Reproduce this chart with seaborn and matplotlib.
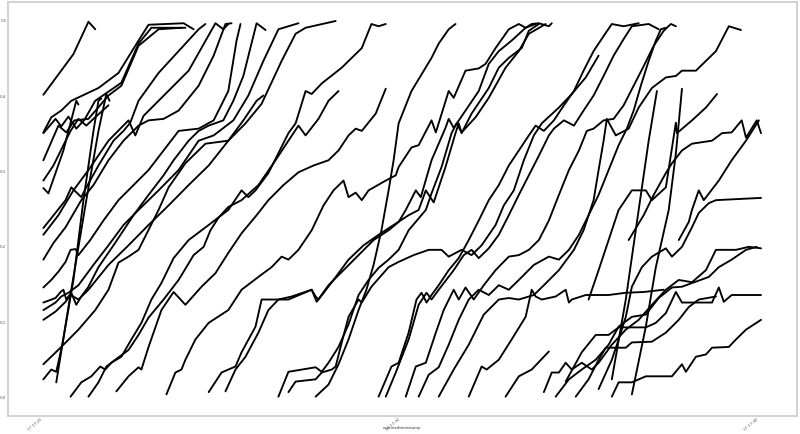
import matplotlib
matplotlib.use("Agg")
import matplotlib.pyplot as plt
import matplotlib.dates as mdates
import seaborn as sns
import pandas as pd

# minutes after 17:20 and values for each series
s01_t = [0, 0.84, 1.26, 1.45]
s01_v = [0.402, 0.456, 0.499, 0.489]
s02_t = [0, 0.22, 0.5, 0.78, 1.54, 2.1, 2.66, 2.94, 3.92, 4.2]
s02_v = [0.352, 0.372, 0.381, 0.394, 0.411, 0.431, 0.474, 0.495, 0.497, 0.489]
s03_t = [0, 0.34, 0.5, 0.7, 0.92, 1.15, 1.45, 2.18, 2.66, 3.02, 3.97]
s03_v = [0.351, 0.370, 0.360, 0.373, 0.357, 0.369, 0.394, 0.418, 0.470, 0.491, 0.491]
s04_t = [0, 0.42, 0.64, 0.87, 1.26, 1.82, 2.18, 2.66, 3.22, 3.86]
s04_v = [0.315, 0.361, 0.352, 0.368, 0.370, 0.401, 0.414, 0.467, 0.489, 0.491]
s05_t = [0, 0.14, 0.56, 0.92, 0.98]
s05_v = [0.278, 0.271, 0.328, 0.394, 0.389]
s06_t = [0, 0.28, 0.56, 0.76, 0.98, 1.2, 1.4, 1.82]
s06_v = [0.288, 0.308, 0.335, 0.354, 0.370, 0.361, 0.370, 0.388]
s07_t = [0.36, 0.78, 1.2, 1.54, 1.76, 1.85]
s07_v = [0.020, 0.143, 0.262, 0.354, 0.403, 0.394]
s08_t = [0, 0.22, 0.36, 0.53, 0.84, 1.12, 1.4, 1.54, 1.62]
s08_v = [0.024, 0.037, 0.034, 0.070, 0.156, 0.262, 0.354, 0.394, 0.397]
s09_t = [0, 0.22, 0.62, 0.78, 1.06, 1.2, 1.54, 1.96, 2.24, 2.43, 2.66, 3.22, 3.78, 4.34, 4.53]
s09_v = [0.225, 0.238, 0.262, 0.279, 0.266, 0.279, 0.308, 0.341, 0.354, 0.365, 0.394, 0.431, 0.460, 0.489, 0.496]
s10_t = [0, 0.42, 0.84, 1.26, 1.82, 2.38, 2.57, 2.8, 3.22, 4.06, 4.81, 5.03, 5.17]
s10_v = [0.216, 0.242, 0.275, 0.302, 0.341, 0.368, 0.348, 0.374, 0.394, 0.434, 0.497, 0.489, 0.496]
s11_t = [0, 0.28, 0.62, 1.06, 1.4, 1.82, 2.24, 2.66, 2.94, 3.36, 3.78, 4.34, 4.76, 5.09, 5.26]
s11_v = [0.183, 0.205, 0.226, 0.262, 0.282, 0.315, 0.341, 0.361, 0.368, 0.370, 0.381, 0.414, 0.454, 0.496, 0.497]
s12_t = [0, 0.22, 0.42, 0.62, 0.76, 0.9, 0.98, 1.31, 1.68, 2.1, 2.52, 2.94, 3.36, 3.78, 4.34, 4.76, 5.17, 5.4, 5.51]
s12_v = [0.146, 0.156, 0.167, 0.180, 0.196, 0.197, 0.189, 0.209, 0.235, 0.262, 0.282, 0.302, 0.328, 0.354, 0.357, 0.368, 0.407, 0.474, 0.496]
s13_t = [0, 0.34, 0.48, 0.56, 0.64, 0.78, 0.92, 1.06, 1.26, 1.54, 1.96, 2.24, 2.52, 2.94, 3.36, 3.64, 4.06, 4.34, 4.62, 5.03, 5.31, 5.59, 5.96, 6.21]
s13_v = [0.126, 0.132, 0.140, 0.143, 0.130, 0.139, 0.123, 0.134, 0.147, 0.173, 0.202, 0.222, 0.242, 0.269, 0.295, 0.315, 0.341, 0.354, 0.361, 0.368, 0.394, 0.427, 0.497, 0.488]
s14_t = [0, 0.34, 0.5, 0.7, 0.98, 1.4, 1.82, 2.24, 2.66, 3.22, 3.78, 4.34, 4.76, 5.31, 5.73, 6.15, 6.57, 6.85, 7.13]
s14_v = [0.116, 0.126, 0.134, 0.139, 0.149, 0.176, 0.202, 0.229, 0.249, 0.275, 0.302, 0.341, 0.348, 0.368, 0.401, 0.447, 0.489, 0.493, 0.497]
s15_t = [0, 0.34, 0.62, 0.76, 0.98, 1.26, 1.82, 2.38, 2.94, 3.5, 4.06, 4.62, 5.17, 5.59, 5.96, 6.15]
s15_v = [0.103, 0.114, 0.127, 0.136, 0.130, 0.143, 0.176, 0.202, 0.229, 0.255, 0.282, 0.308, 0.341, 0.368, 0.394, 0.401]
s16_t = [0, 0.5, 0.98, 1.45, 1.82, 2.1, 2.38, 2.66, 3.22, 3.5, 3.97, 4.53, 5.17, 5.65, 6.1, 6.66, 7.05, 7.33, 8.17]
s16_v = [0.044, 0.067, 0.090, 0.116, 0.143, 0.179, 0.187, 0.196, 0.249, 0.279, 0.311, 0.337, 0.341, 0.364, 0.390, 0.447, 0.483, 0.491, 0.500]
s17_t = [0.76, 1.06, 1.34, 1.59, 1.73, 1.9, 2.18, 2.46, 2.74, 3.02, 3.3, 3.64, 4.06, 4.62, 5.17, 5.54, 5.73, 5.93, 6.29, 6.85, 7.05, 7.33, 7.5, 7.78, 8.34, 8.9, 9.17, 9.37, 9.57]
s17_v = [0.001, 0.020, 0.028, 0.041, 0.037, 0.046, 0.054, 0.077, 0.099, 0.130, 0.152, 0.185, 0.209, 0.229, 0.249, 0.275, 0.266, 0.275, 0.298, 0.351, 0.364, 0.407, 0.403, 0.417, 0.438, 0.464, 0.496, 0.493, 0.496]
s18_t = [1.26, 1.54, 1.76, 2.01, 2.38, 2.66, 2.94, 3.36, 3.78, 4.2, 4.48, 4.67, 4.9, 5.17, 5.54, 6.01, 6.49, 6.85, 7.13, 7.33, 7.69, 7.97, 8.25]
s18_v = [0.001, 0.020, 0.041, 0.050, 0.063, 0.083, 0.106, 0.130, 0.156, 0.189, 0.200, 0.222, 0.239, 0.253, 0.262, 0.282, 0.315, 0.341, 0.361, 0.348, 0.370, 0.394, 0.407]
s19_t = [2.04, 2.38, 2.66, 2.74, 2.94, 3.3, 3.64, 3.97, 4.42, 4.81, 5.17, 5.54, 5.96, 6.29, 6.71, 7.13, 7.55, 7.97, 8.25, 8.53, 8.73, 8.9, 9.29, 9.57]
s19_v = [0.008, 0.028, 0.040, 0.037, 0.067, 0.116, 0.140, 0.123, 0.147, 0.165, 0.192, 0.218, 0.242, 0.262, 0.282, 0.299, 0.308, 0.315, 0.328, 0.348, 0.357, 0.354, 0.377, 0.410]
s20_t = [3.44, 3.69, 3.86, 3.97, 4.25, 4.62, 5.17, 5.54, 6.01, 6.38, 6.66, 6.85, 7.13, 7.5, 7.83, 8.11, 8.39, 8.53, 8.73, 8.9, 9.09, 9.57, 9.85, 9.93, 10.29, 10.49, 10.85, 10.97, 11.33, 11.47, 11.8, 12.17, 12.36, 12.64, 13.01, 13.29, 13.48, 13.65, 13.85, 14.13, 14.21]
s20_v = [0.004, 0.033, 0.037, 0.050, 0.077, 0.099, 0.116, 0.143, 0.160, 0.173, 0.187, 0.183, 0.196, 0.222, 0.255, 0.275, 0.288, 0.266, 0.272, 0.262, 0.275, 0.288, 0.295, 0.306, 0.332, 0.335, 0.368, 0.352, 0.407, 0.398, 0.434, 0.437, 0.443, 0.464, 0.489, 0.496, 0.491, 0.496, 0.497, 0.493, 0.497]
s21_t = [4.62, 4.98, 5.17, 5.37, 5.54, 5.93, 6.1, 6.85, 7.5, 7.64, 7.97, 8.39, 8.81, 9.23, 9.65, 9.93, 10.13, 10.41, 10.55, 10.85, 11.24, 11.33, 11.47, 11.8, 12.17, 12.45, 12.73, 13.09, 13.48, 13.76]
s21_v = [0.007, 0.033, 0.037, 0.041, 0.060, 0.094, 0.130, 0.130, 0.143, 0.127, 0.149, 0.169, 0.189, 0.209, 0.222, 0.233, 0.249, 0.275, 0.266, 0.315, 0.358, 0.370, 0.358, 0.381, 0.407, 0.443, 0.460, 0.474, 0.491, 0.496]
s22_t = [5.09, 5.37, 5.65, 6.01, 6.29, 6.57, 6.94, 7.5, 7.61, 7.69, 8.11, 8.53, 8.95, 9.37, 9.79, 10.21, 10.49, 10.69, 10.91, 11.24, 11.52, 11.61, 11.69, 11.97, 12.45, 12.73, 13.01, 13.37, 13.57, 13.85]
s22_v = [0.008, 0.037, 0.054, 0.086, 0.116, 0.130, 0.134, 0.143, 0.134, 0.130, 0.156, 0.183, 0.202, 0.216, 0.229, 0.242, 0.249, 0.275, 0.259, 0.306, 0.351, 0.364, 0.351, 0.377, 0.411, 0.438, 0.451, 0.464, 0.487, 0.496]
s23_t = [6.57, 6.85, 7.61, 7.78, 7.97, 8.25, 8.53, 8.81, 9.09, 9.37, 9.65, 9.93, 10.21, 10.69, 10.85, 11.13, 11.41, 11.55, 11.69, 12.08, 12.45, 12.92, 13.29, 13.57, 14.04]
s23_v = [0.001, 0.034, 0.040, 0.034, 0.046, 0.067, 0.097, 0.136, 0.156, 0.172, 0.183, 0.196, 0.222, 0.249, 0.271, 0.306, 0.351, 0.364, 0.352, 0.372, 0.398, 0.438, 0.460, 0.483, 0.496]
s24_t = [6.85, 7.05, 7.61, 7.78, 8.06, 8.17, 8.34, 8.53, 8.81, 8.9, 9.17, 9.65, 9.93, 10.35, 10.77, 11.13, 11.33, 11.69, 11.97, 12.25, 12.64, 12.87, 13.15, 13.43, 13.71, 13.93, 14.41, 14.77, 15.16, 15.52]
s24_v = [0.007, 0.021, 0.024, 0.033, 0.037, 0.041, 0.073, 0.107, 0.130, 0.126, 0.147, 0.173, 0.180, 0.189, 0.196, 0.196, 0.187, 0.196, 0.189, 0.202, 0.229, 0.255, 0.275, 0.315, 0.348, 0.364, 0.385, 0.403, 0.425, 0.454]
s25_t = [7.61, 7.97, 8.25, 8.53, 8.81, 9.03, 9.23, 9.45, 9.65, 9.79, 9.93, 10.29, 10.85, 11.05, 11.33, 11.52]
s25_v = [0.001, 0.017, 0.044, 0.077, 0.116, 0.143, 0.176, 0.222, 0.275, 0.315, 0.364, 0.407, 0.451, 0.470, 0.489, 0.496]
s26_t = [9.37, 9.73, 9.93, 10.21, 10.43, 10.57, 10.71, 10.85, 11.05, 11.33, 11.61, 11.89, 12.17, 12.45, 12.73, 13.01, 13.29, 13.57, 13.76, 13.99, 14.27, 14.55, 14.83, 15.1, 15.38, 15.66, 15.89, 16.22, 16.64]
s26_v = [0.001, 0.041, 0.046, 0.086, 0.130, 0.139, 0.126, 0.136, 0.149, 0.169, 0.185, 0.209, 0.235, 0.262, 0.282, 0.308, 0.328, 0.348, 0.361, 0.354, 0.368, 0.388, 0.407, 0.434, 0.460, 0.480, 0.496, 0.493, 0.497]
s27_t = [9.57, 9.85, 10.21, 10.49, 10.71, 10.85, 11.05, 11.47, 11.75, 11.97, 12.17, 12.45, 12.73, 13.01, 13.29, 13.57, 13.85, 14.13, 14.27, 14.55, 14.83, 15.1, 15.38, 15.66, 15.94, 16.22, 16.45, 16.92, 17.2]
s27_v = [0.001, 0.033, 0.077, 0.123, 0.139, 0.130, 0.143, 0.169, 0.189, 0.196, 0.185, 0.198, 0.216, 0.242, 0.269, 0.295, 0.321, 0.348, 0.357, 0.368, 0.361, 0.381, 0.401, 0.427, 0.454, 0.476, 0.493, 0.496, 0.489]
s28_t = [10.13, 10.41, 10.69, 10.97, 11.19, 11.47, 11.61, 11.8, 12.03, 12.31, 12.64, 13.01, 13.29, 13.57, 13.85, 14.13, 14.41, 14.69, 14.97, 15.19, 15.38, 15.66, 15.94, 16.22, 16.5, 16.78, 17.06, 17.34, 17.54, 17.68]
s28_v = [0.001, 0.041, 0.046, 0.086, 0.116, 0.143, 0.130, 0.146, 0.130, 0.149, 0.169, 0.187, 0.189, 0.196, 0.209, 0.235, 0.269, 0.302, 0.328, 0.354, 0.357, 0.368, 0.370, 0.388, 0.414, 0.440, 0.467, 0.487, 0.496, 0.493]
s29_t = [10.49, 10.77, 11.05, 11.33, 11.61, 11.89, 12.17, 12.45, 12.73, 13.01, 13.29, 13.71, 14.13, 14.41, 14.69, 14.97, 15.24, 15.52, 15.8, 16.08, 16.31, 16.5, 16.7, 16.92, 17.12, 17.26, 17.4]
s29_v = [0.001, 0.030, 0.040, 0.070, 0.103, 0.130, 0.143, 0.136, 0.149, 0.143, 0.156, 0.176, 0.187, 0.183, 0.196, 0.216, 0.242, 0.269, 0.302, 0.335, 0.357, 0.381, 0.414, 0.447, 0.474, 0.489, 0.491]
s30_t = [11.05, 11.47, 11.89, 12.31, 12.73, 13.01, 13.29, 13.71, 13.99, 14.41, 14.83, 15.1, 15.38, 15.52, 15.66, 15.75, 16.0, 16.36, 16.64, 17.01, 17.4, 17.68, 17.85, 18.24, 18.52, 18.8, 19.16, 19.5]
s30_v = [0.001, 0.037, 0.070, 0.110, 0.130, 0.132, 0.130, 0.136, 0.149, 0.169, 0.196, 0.222, 0.262, 0.302, 0.341, 0.370, 0.348, 0.357, 0.385, 0.411, 0.425, 0.427, 0.434, 0.434, 0.447, 0.460, 0.493, 0.488]
s31_t = [11.89, 12.25, 12.39, 12.73, 13.09, 13.48, 13.65, 13.76, 13.93, 14.32, 14.6, 14.69, 14.77, 15.16, 15.8, 16.28, 16.78, 17.34]
s31_v = [0.001, 0.041, 0.037, 0.050, 0.077, 0.107, 0.143, 0.134, 0.130, 0.134, 0.143, 0.126, 0.130, 0.136, 0.136, 0.139, 0.140, 0.143]
s32_t = [12.92, 13.29, 13.65, 14.13]
s32_v = [0.001, 0.028, 0.037, 0.061]
s33_t = [13.99, 14.21, 14.41, 14.6, 14.77, 15.05, 15.33, 15.52, 15.89, 16.28, 16.64, 17.01, 17.4, 17.76, 18.13, 18.52, 18.8, 19.36, 19.72, 20.06]
s33_v = [0.007, 0.033, 0.033, 0.046, 0.037, 0.046, 0.037, 0.046, 0.070, 0.090, 0.103, 0.123, 0.143, 0.156, 0.153, 0.169, 0.196, 0.196, 0.200, 0.198]
s34_t = [14.32, 14.69, 15.05, 15.44, 15.8, 16.08, 16.45, 16.84, 17.2, 17.57, 17.85, 18.6, 18.88, 19.24, 19.64, 19.94]
s34_v = [0.001, 0.024, 0.037, 0.050, 0.070, 0.094, 0.107, 0.110, 0.132, 0.146, 0.147, 0.160, 0.173, 0.183, 0.196, 0.200]
s35_t = [14.6, 15.05, 15.44, 15.8, 16.08, 16.84, 17.12, 17.4, 17.68, 17.85, 18.69, 18.88, 19.02, 19.24, 20.06]
s35_v = [0.021, 0.060, 0.083, 0.083, 0.093, 0.093, 0.099, 0.112, 0.140, 0.126, 0.126, 0.146, 0.127, 0.136, 0.136]
s36_t = [14.88, 15.24, 15.52, 15.72, 16.28, 16.45, 17.01, 17.4, 17.76, 18.04, 18.32, 18.8]
s36_v = [0.001, 0.024, 0.050, 0.066, 0.066, 0.073, 0.074, 0.086, 0.103, 0.120, 0.130, 0.134]
s37_t = [15.89, 16.08, 16.45, 16.84, 17.57, 17.85, 17.96, 18.24, 18.52, 18.69, 19.16, 19.36, 19.64, 20.06]
s37_v = [0.001, 0.020, 0.020, 0.028, 0.028, 0.044, 0.034, 0.054, 0.057, 0.066, 0.067, 0.077, 0.090, 0.103]
s38_t = [15.89, 16.28, 16.64, 16.92, 17.15]
s38_v = [0.024, 0.130, 0.249, 0.341, 0.407]
s39_t = [16.45, 16.84, 17.12, 17.48, 17.68, 17.85]
s39_v = [0.004, 0.094, 0.173, 0.249, 0.324, 0.410]
s40_t = [15.52, 15.89, 16.08, 16.28, 16.45, 16.73, 17.01, 17.4, 17.57, 17.85, 18.13, 18.32, 18.6, 18.8, 20.06]
s40_v = [0.011, 0.050, 0.077, 0.107, 0.147, 0.173, 0.187, 0.198, 0.187, 0.200, 0.226, 0.245, 0.258, 0.262, 0.265]
s41_t = [15.24, 15.52, 15.8, 16.08, 16.45, 16.84, 17.01, 17.4, 17.68, 17.71, 18.13, 18.52, 18.83]
s41_v = [0.130, 0.169, 0.209, 0.249, 0.275, 0.275, 0.262, 0.279, 0.365, 0.351, 0.368, 0.385, 0.403]
s42_t = [17.76, 18.04, 18.13, 18.32, 18.46, 18.88, 19.24, 19.64, 20.0]
s42_v = [0.209, 0.233, 0.249, 0.275, 0.262, 0.288, 0.315, 0.341, 0.368]
s43_t = [16.36, 16.78, 17.06, 17.4, 17.57, 17.85, 18.13, 18.69, 18.97, 19.24, 19.52, 19.64, 19.94, 20.06]
s43_v = [0.209, 0.242, 0.269, 0.298, 0.311, 0.328, 0.337, 0.341, 0.351, 0.352, 0.368, 0.345, 0.368, 0.351]

series_t = [s01_t, s02_t, s03_t, s04_t, s05_t, s06_t, s07_t, s08_t, s09_t, s10_t,
            s11_t, s12_t, s13_t, s14_t, s15_t, s16_t, s17_t, s18_t, s19_t, s20_t,
            s21_t, s22_t, s23_t, s24_t, s25_t, s26_t, s27_t, s28_t, s29_t, s30_t,
            s31_t, s32_t, s33_t, s34_t, s35_t, s36_t, s37_t, s38_t, s39_t, s40_t,
            s41_t, s42_t, s43_t]
series_v = [s01_v, s02_v, s03_v, s04_v, s05_v, s06_v, s07_v, s08_v, s09_v, s10_v,
            s11_v, s12_v, s13_v, s14_v, s15_v, s16_v, s17_v, s18_v, s19_v, s20_v,
            s21_v, s22_v, s23_v, s24_v, s25_v, s26_v, s27_v, s28_v, s29_v, s30_v,
            s31_v, s32_v, s33_v, s34_v, s35_v, s36_v, s37_v, s38_v, s39_v, s40_v,
            s41_v, s42_v, s43_v]

start = pd.Timestamp("2021-03-17 17:20:00")
rows = []
for i, (ts, vs) in enumerate(zip(series_t, series_v)):
    for t, v in zip(ts, vs):
        rows.append({"id": i, "capturedtimestamp": start + pd.to_timedelta(t, unit="m"), "value": v})
df = pd.DataFrame(rows)

sns.set_style("white")
fig = plt.figure(figsize=(8, 4.34), dpi=100)
ax = fig.add_axes([0.0095, 0.041, 0.9865, 0.954])
sns.lineplot(data=df, x="capturedtimestamp", y="value", units="id", estimator=None,
             color="black", linewidth=1.35, sort=False, ax=ax, legend=False)

ax.set_xlim(start - pd.Timedelta(minutes=1.0), start + pd.Timedelta(minutes=21.06))
ax.set_ylim(-0.025, 0.525)
ax.xaxis.set_major_locator(mdates.MinuteLocator(byminute=[20, 30, 40]))
ax.xaxis.set_major_formatter(mdates.DateFormatter("%d %H:%M"))
ax.set_yticks([0.0, 0.1, 0.2, 0.3, 0.4, 0.5])
ax.set_yticklabels(["0.0", "0.1", "0.2", "0.3", "0.4", "0.5"])
ax.tick_params(axis="both", labelsize=2.8, colors="#555555", length=0, pad=0.8)
plt.setp(ax.get_xticklabels(), rotation=40, ha="right")
ax.set_xlabel("capturedtimestamp", fontsize=2.8, color="#333333")
ax.xaxis.set_label_coords(0.5, -0.029)
ax.xaxis.label.set_va("center")
ax.set_ylabel("")
for sp in ax.spines.values():
    sp.set_color("#cccccc")
    sp.set_linewidth(1.2)

fig.savefig("out.png", dpi=100)
